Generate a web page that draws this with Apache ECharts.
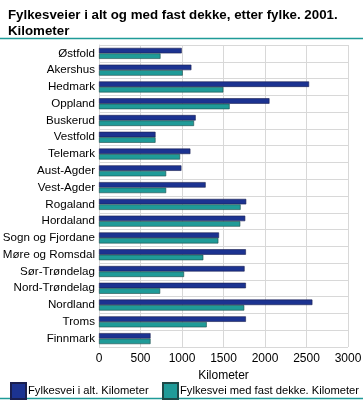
<!DOCTYPE html>
<html><head><meta charset="utf-8">
<script src="https://cdn.jsdelivr.net/npm/echarts@6/dist/echarts.min.js"></script>
<style>html,body{margin:0;padding:0;background:#fff}#c{width:363px;height:403px}</style>
</head><body><div id="c"></div>
<script>
const categories = ["Østfold","Akershus","Hedmark","Oppland","Buskerud","Vestfold","Telemark","Aust-Agder","Vest-Agder","Rogaland","Hordaland","Sogn og Fjordane","Møre og Romsdal","Sør-Trøndelag","Nord-Trøndelag","Nordland","Troms","Finnmark"];
const totalKm = [997,1113,2531,2054,1165,681,1101,993,1285,1774,1762,1446,1770,1754,1770,2571,1770,621];
const pavedKm = [741,1009,1498,1574,1145,681,977,809,809,1706,1702,1438,1257,1025,737,1750,1298,621];
const xTicks = [0,500,1000,1500,2000,2500,3000];
const seriesNames = ["Fylkesvei i alt. Kilometer","Fylkesvei med fast dekke. Kilometer"];

const font = "Liberation Sans";
const legendText = {fontSize:11.2, color:'#000', padding:[0,0,0,-3]};
const chart = echarts.init(document.getElementById('c'));
chart.setOption({
  animation:false,
  textStyle:{fontFamily:font},
  title:{
    text:"Fylkesveier i alt og med fast dekke, etter fylke. 2001.\nKilometer",
    left:3, top:2,
    textStyle:{fontSize:13.3, fontWeight:'bold', color:'#000', lineHeight:16, fontFamily:font}
  },
  graphic:[
    {type:'line', shape:{x1:0,y1:38.5,x2:363,y2:38.5}, style:{stroke:'#1f9b98', lineWidth:1.5}},
    {type:'line', shape:{x1:0,y1:398.5,x2:363,y2:398.5}, style:{stroke:'#1f9b98', lineWidth:1.5}}
  ],
  legend:[
    {left:5, top:377, itemWidth:15, itemHeight:16, icon:'rect', textStyle:legendText, data:[seriesNames[0]]},
    {left:157, top:377, itemWidth:15, itemHeight:16, icon:'rect', textStyle:legendText, data:[seriesNames[1]]}
  ],
  grid:{left:99, right:15, top:45, bottom:56, outerBoundsMode:'none', containLabel:false},
  xAxis:{
    type:'value', min:0, max:3000, interval:500,
    name:'Kilometer', nameLocation:'middle', nameGap:23,
    nameTextStyle:{fontSize:12, color:'#000'},
    axisLine:{show:false}, axisTick:{show:false},
    axisLabel:{fontSize:12, color:'#000', margin:6,
      formatter:v=>xTicks.includes(v)?String(v):''},
    splitLine:{show:true, lineStyle:{color:'#d8d8d8', width:1}}
  },
  yAxis:{
    type:'category', data:categories, inverse:true,
    axisLine:{show:true, lineStyle:{color:'#d8d8d8'}},
    axisTick:{show:false},
    axisLabel:{fontSize:11.6, color:'#000', margin:4},
    splitLine:{show:true, lineStyle:{color:'#d8d8d8', width:1}}
  },
  series:[
    {name:seriesNames[0], type:'bar', data:totalKm, barWidth:5.5, barGap:'0%',
     itemStyle:{color:'#1c3391', borderColor:'#1a1f4f', borderWidth:0.6}},
    {name:seriesNames[1], type:'bar', data:pavedKm, barWidth:5.5, barGap:'0%',
     itemStyle:{color:'#1f9b98', borderColor:'#1d4a48', borderWidth:0.6}}
  ]
});
</script></body></html>
